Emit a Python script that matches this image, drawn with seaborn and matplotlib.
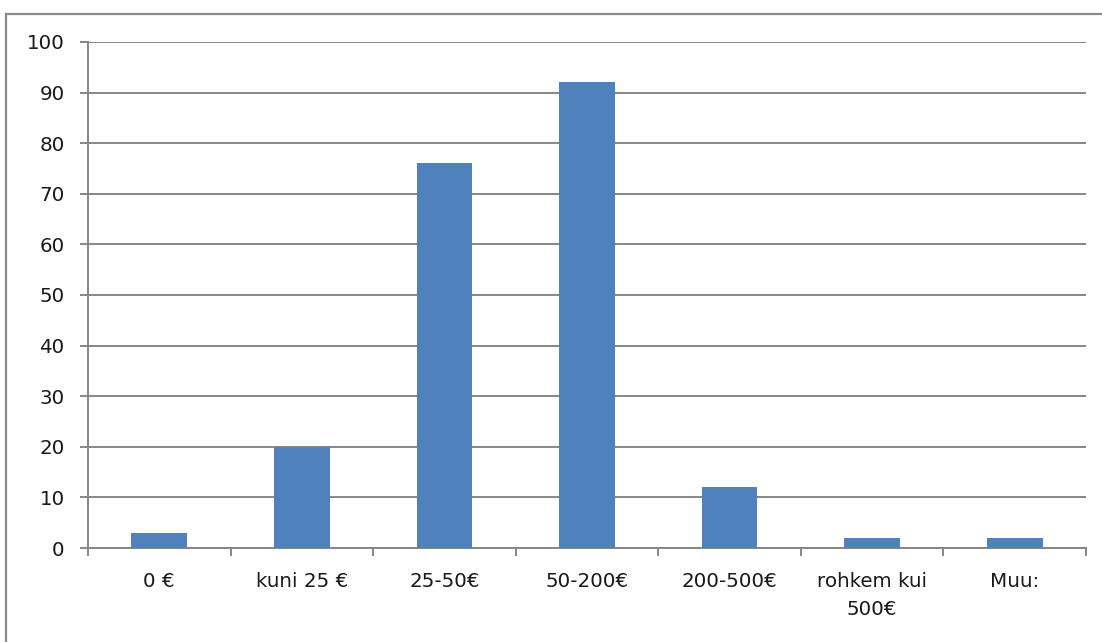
import matplotlib
matplotlib.use("Agg")
import matplotlib.pyplot as plt
import seaborn as sns
import pandas as pd
from matplotlib.patches import Rectangle
from matplotlib.ticker import FixedLocator

categories = ["0 €", "kuni 25 €", "25-50€", "50-200€", "200-500€", "rohkem kui\n500€", "Muu:"]
values = [3, 20, 76, 92, 12, 2, 2]
y_ticks = [0, 10, 20, 30, 40, 50, 60, 70, 80, 90, 100]

sns.set_theme(style="white")
plt.rcParams['font.family'] = ['DejaVu Sans']

W, H = 1102, 642
fig = plt.figure(figsize=(W / 100, H / 100), dpi=100)
ax = fig.add_axes([88 / W, 1 - 548 / H, (1086 - 88) / W, (548 - 42) / H])

df = pd.DataFrame({"cat": categories, "val": values})
sns.barplot(data=df, x="cat", y="val", color="#4F81BD", saturation=1, width=0.39,
            edgecolor="none", linewidth=0, ax=ax, zorder=3)

gray = "#868686"
ax.set_xlim(-0.5, len(categories) - 0.5)
ax.set_ylim(0, 100)
ax.yaxis.set_major_locator(FixedLocator(y_ticks))
ax.grid(axis="y", color=gray, linewidth=1.4, zorder=0)
ax.set_axisbelow(True)

for s in ["top", "right"]:
    ax.spines[s].set_visible(False)
ax.spines["left"].set_color(gray)
ax.spines["left"].set_linewidth(1.4)
ax.spines["bottom"].set_color(gray)
ax.spines["bottom"].set_linewidth(1.4)

ax.set_xlabel("")
ax.set_ylabel("")
fs = 14.3
ax.tick_params(axis="y", length=5.8, width=1.4, color=gray, pad=11, labelsize=fs, labelcolor="#1a1a1a", left=True)
ax.tick_params(axis="x", which="major", length=0, pad=17, labelsize=fs, labelcolor="#1a1a1a")
ax.set_xticks([i - 0.5 for i in range(len(categories) + 1)], minor=True)
ax.tick_params(axis="x", which="minor", length=5.8, width=1.4, color=gray, bottom=True)
for lbl in ax.get_xticklabels():
    lbl.set_linespacing(1.6)
    lbl.set_verticalalignment("top")

# outer border (top and left visible)
fig.patches.append(Rectangle((6 / W, -0.1), 1.2, 1 - 14 / H + 0.1, transform=fig.transFigure,
                             fill=False, edgecolor="#8a8a8a", linewidth=1.6, zorder=0))

fig.savefig("out.png", dpi=100)
